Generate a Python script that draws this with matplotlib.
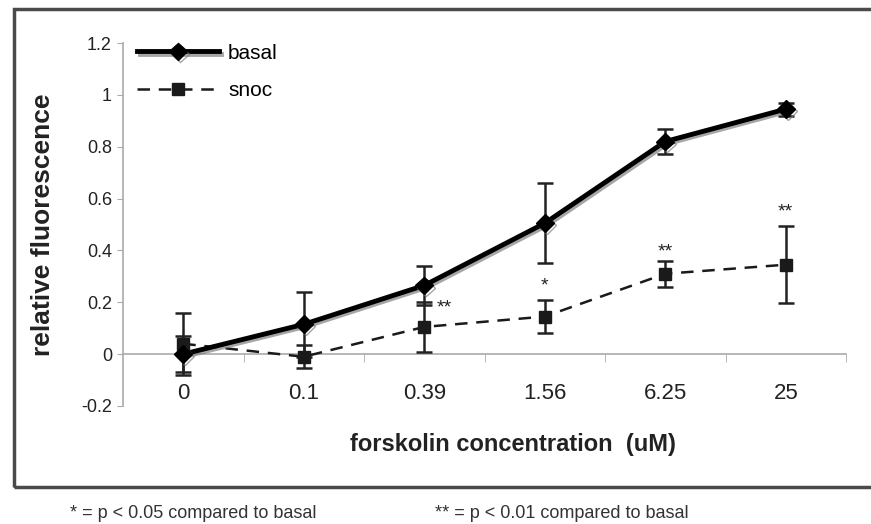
import matplotlib.pyplot as plt
import matplotlib.patheffects as pe
from matplotlib.patches import Rectangle
import numpy as np

plt.rcParams['font.family'] = ['Liberation Sans', 'DejaVu Sans']

# data
conc_labels = ['0', '0.1', '0.39', '1.56', '6.25', '25']
basal = [0.0, 0.115, 0.265, 0.505, 0.82, 0.945]
basal_err = [0.07, 0.125, 0.075, 0.155, 0.05, 0.025]
snoc = [0.04, -0.01, 0.105, 0.145, 0.31, 0.345]
snoc_err = [0.12, 0.045, 0.095, 0.065, 0.05, 0.148]
# significance marks: (index, offset in x, y, text)
sig_marks = [(2, 0.17, 0.16, '**'), (3, 0.0, 0.245, '*'),
             (4, 0.0, 0.375, '**'), (5, 0.0, 0.53, '**')]

x = np.arange(len(conc_labels))

fig = plt.figure(figsize=(8.71, 5.24), dpi=100)
ax = fig.add_axes([123/871, 1-406/524, 723/871, 363/524])

# outer frame
fig.patches.append(Rectangle((14/871, 1-487/524), 1.0, 478/524, transform=fig.transFigure,
                             fill=False, ec='#4a4a4a', lw=2.5, clip_on=False))

ax.errorbar(x, basal, yerr=basal_err, fmt='none', ecolor='#222222', elinewidth=1.8,
            capsize=5.5, capthick=1.8, zorder=3)
ax.errorbar(x, snoc, yerr=snoc_err, fmt='none', ecolor='#222222', elinewidth=1.8,
            capsize=5.5, capthick=1.8, zorder=3)

l1, = ax.plot(x, basal, color='black', lw=3.5, marker='D', ms=9, zorder=5, label='basal',
              path_effects=[pe.SimpleLineShadow(offset=(1.5, -1.5), shadow_color='gray', alpha=0.7),
                            pe.Normal()])
l2, = ax.plot(x, snoc, color='#1a1a1a', lw=1.8, ls=(0, (5, 3.5)), marker='s', ms=9,
              zorder=4, label='snoc')

for i, dx, yy, s in sig_marks:
    ax.text(x[i] + dx, yy, s, ha='center', va='baseline', fontsize=14, color='#222222')

ax.set_xlim(-0.5, 5.5)
ax.set_ylim(-0.2, 1.2)
ax.set_yticks(np.arange(-0.2, 1.21, 0.2))
ax.set_yticklabels(['-0.2', '0', '0.2', '0.4', '0.6', '0.8', '1', '1.2'])
ax.set_xticks(x)
ax.set_xticklabels(conc_labels)
ax.set_xticks(np.arange(0.5, 5.6, 1.0), minor=True)
ax.tick_params(axis='x', which='major', length=0, pad=21, labelsize=16, colors='#222222')
ax.tick_params(axis='x', which='minor', length=6, color='#aaaaaa', direction='out')
ax.tick_params(axis='y', length=4, color='#aaaaaa', labelsize=13, pad=4, labelcolor='#222222')

for s in ['top', 'right']:
    ax.spines[s].set_visible(False)
ax.spines['bottom'].set_position(('data', 0))
ax.spines['bottom'].set_color('#aaaaaa')
ax.spines['left'].set_color('#aaaaaa')
ax.spines['bottom'].set_linewidth(1.2)
ax.spines['left'].set_linewidth(1.2)

ax.set_ylabel('relative fluorescence', fontsize=19, fontweight='bold', color='#222222')
ax.yaxis.set_label_coords(-0.094, 0.5)
fig.text(513/871, 1-445/524, 'forskolin concentration  (uM)', ha='center', va='center',
         fontsize=17, fontweight='bold', color='#222222')

ax.legend(handles=[l1, l2], loc='upper left', bbox_to_anchor=(0.02, 0.998), frameon=False,
          fontsize=15, handlelength=3.9, handletextpad=0.45, labelspacing=0.9,
          borderpad=0, borderaxespad=0)

fig.text(70/871, 1-513/524, '* = p < 0.05 compared to basal', fontsize=13, va='center', color='#333333')
fig.text(435/871, 1-513/524, '** = p < 0.01 compared to basal', fontsize=13, va='center', color='#333333')

fig.savefig('out.png', dpi=100)
